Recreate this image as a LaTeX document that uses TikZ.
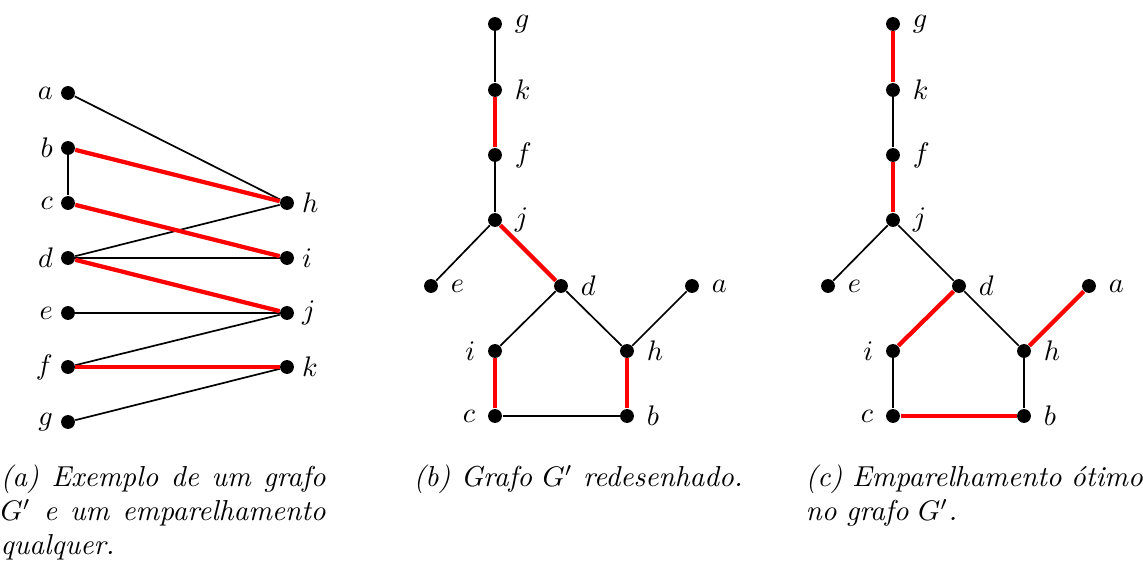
\documentclass[tikz,border=0pt]{standalone}
\begin{document}
\begin{tikzpicture}[x=0.3534pt,y=-0.3534pt,
  dot/.style={circle,fill=black,inner sep=0pt,minimum size=4.9pt},
  lab/.style={label distance=0.5pt,inner sep=2pt},
  labb/.style={label distance=2.2pt,inner sep=2pt},
  blk/.style={line width=0.6pt,black},
  mat/.style={line width=1.5pt,red},
  captxt/.style={anchor=base west,inner sep=0pt,font=\fontsize{10.2}{12}\selectfont\itshape}]
\useasboundingbox (0,0) rectangle (1143,561);
% ---------- panel (a)
\node[dot,label={[lab]left:$a$}] (aa) at (68,93) {};
\node[dot,label={[lab]left:$b$}] (ab) at (68,148) {};
\node[dot,label={[lab]left:$c$}] (ac) at (68,203) {};
\node[dot,label={[lab]left:$d$}] (ad) at (68,258) {};
\node[dot,label={[lab]left:$e$}] (ae) at (68,313) {};
\node[dot,label={[lab]left:$f$}] (af) at (68,367) {};
\node[dot,label={[lab]left:$g$}] (ag) at (68,422) {};
\node[dot,label={[lab]right:$h$}] (ah) at (287,203) {};
\node[dot,label={[lab]right:$i$}] (ai) at (287,258) {};
\node[dot,label={[lab]right:$j$}] (aj) at (287,313) {};
\node[dot,label={[lab]right:$k$}] (ak) at (287,367) {};
\draw[blk] (aa) -- (ah);
\draw[blk] (ab) -- (ac);
\draw[blk] (ad) -- (ah);
\draw[blk] (ad) -- (ai);
\draw[blk] (ae) -- (aj);
\draw[blk] (af) -- (aj);
\draw[blk] (ag) -- (ak);
\draw[mat] (ab) -- (ah);
\draw[mat] (ac) -- (ai);
\draw[mat] (ad) -- (aj);
\draw[mat] (af) -- (ak);
% ---------- panel (b)
\node[dot,label={[labb]right:$g$}] (bg) at (495,24) {};
\node[dot,label={[labb]right:$k$}] (bk) at (495,90) {};
\node[dot,label={[labb]right:$f$}] (bf) at (495,155) {};
\node[dot,label={[labb]right:$j$}] (bj) at (495,220) {};
\node[dot,label={[labb]right:$e$}] (be) at (431,286) {};
\node[dot,label={[labb]right:$d$}] (bd) at (561,286) {};
\node[dot,label={[labb]right:$a$}] (ba) at (692,286) {};
\node[dot,label={[labb]left:$i$}] (bi) at (495,351) {};
\node[dot,label={[labb]right:$h$}] (bh) at (627,351) {};
\node[dot,label={[labb]left:$c$}] (bc) at (495,416) {};
\node[dot,label={[labb]right:$b$}] (bb) at (627,416) {};
\draw[blk] (bg) -- (bk);
\draw[blk] (bf) -- (bj);
\draw[blk] (bj) -- (be);
\draw[blk] (bd) -- (bi);
\draw[blk] (bd) -- (bh);
\draw[blk] (bh) -- (ba);
\draw[blk] (bc) -- (bb);
\draw[mat] (bk) -- (bf);
\draw[mat] (bj) -- (bd);
\draw[mat] (bi) -- (bc);
\draw[mat] (bh) -- (bb);
% ---------- panel (c)
\node[dot,label={[labb]right:$g$}] (cg) at (893,24) {};
\node[dot,label={[labb]right:$k$}] (ck) at (893,90) {};
\node[dot,label={[labb]right:$f$}] (cf) at (893,155) {};
\node[dot,label={[labb]right:$j$}] (cj) at (893,220) {};
\node[dot,label={[labb]right:$e$}] (ce) at (828,286) {};
\node[dot,label={[labb]right:$d$}] (cd) at (959,286) {};
\node[dot,label={[labb]right:$a$}] (ca) at (1089,286) {};
\node[dot,label={[labb]left:$i$}] (ci) at (893,351) {};
\node[dot,label={[labb]right:$h$}] (ch) at (1024,351) {};
\node[dot,label={[labb]left:$c$}] (cc) at (893,416) {};
\node[dot,label={[labb]right:$b$}] (cb) at (1024,416) {};
\draw[blk] (ck) -- (cf);
\draw[blk] (cj) -- (ce);
\draw[blk] (cj) -- (cd);
\draw[blk] (cd) -- (ch);
\draw[blk] (ci) -- (cc);
\draw[blk] (ch) -- (cb);
\draw[mat] (cg) -- (ck);
\draw[mat] (cf) -- (cj);
\draw[mat] (cd) -- (ci);
\draw[mat] (ch) -- (ca);
\draw[mat] (cc) -- (cb);
% ---------- captions
\node[captxt,text width=114.9pt,align=justify] (capa) at (0,486.7)
  {(a) Exemplo de um grafo\linebreak $G'$ e um emparelhamento\linebreak qualquer.};
\node[captxt] (capb) at (413,486.7) {(b) Grafo $G'$ redesenhado.};
\node[captxt,text width=125pt,align=left] (capc) at (805,486.7)
  {(c) Emparelhamento ótimo\\ no grafo $G'$.};
\end{tikzpicture}
\end{document}
